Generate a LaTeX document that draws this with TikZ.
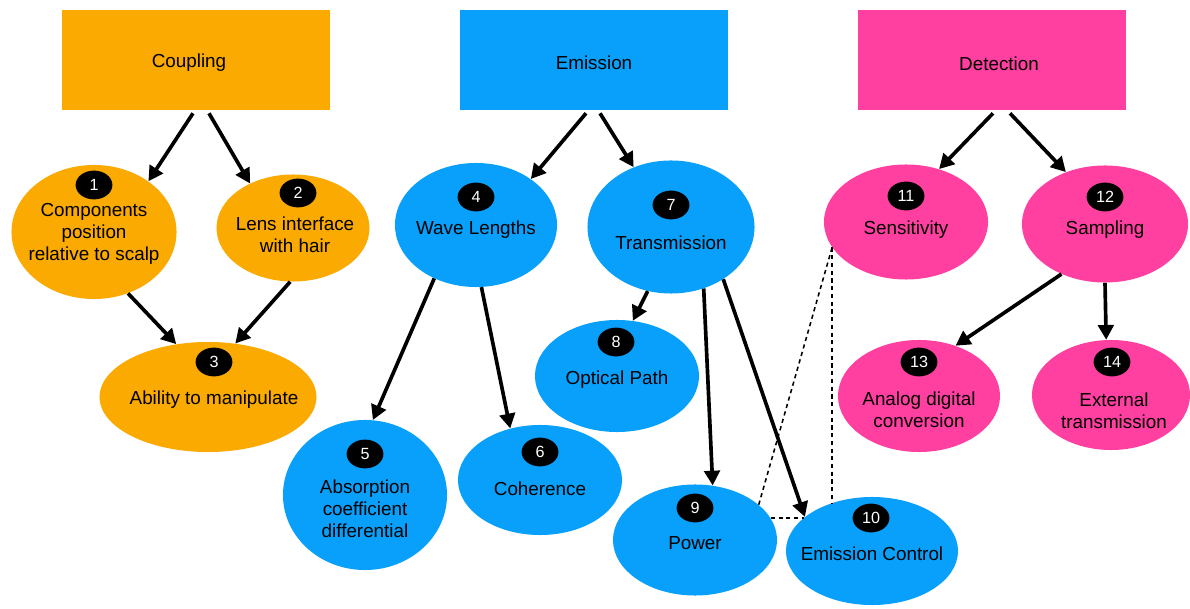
\documentclass[tikz,border=0pt]{standalone}
\usepackage{fontspec}
\setmainfont{Liberation Sans}
\usepackage{tikz}
\usetikzlibrary{arrows.meta,calc,positioning,shapes.geometric}
\definecolor{cplorange}{RGB}{250,170,0}
\definecolor{emiblue}{RGB}{8,160,250}
\definecolor{detpink}{RGB}{255,64,160}

\begin{document}
\begin{tikzpicture}[
      x=0.025cm, y=-0.025cm,
      head/.style={rectangle, minimum width=6.7cm, minimum height=2.5cm, inner sep=0pt},
      blob/.style={ellipse, inner sep=0pt},
      txt/.style={align=center, inner sep=0pt, yshift=-1.8pt, font=\fontsize{13.4}{15.6}\selectfont},
      badge/.style={ellipse, fill=black, text=white, minimum width=0.92cm, minimum height=0.72cm, inner sep=0pt, font=\fontsize{11.5}{11.5}\selectfont},
      flow/.style={-{Triangle[length=10.5pt,width=11pt]}, line width=2.6pt},
      link/.style={line width=1.1pt, dash pattern=on 3pt off 2.5pt}
    ]
      \useasboundingbox (0,0) rectangle (1190,609);

      % group headers
      \node[head, fill=cplorange] (coup) at (196,60) {};
      \node[txt] (tcoup) at (189,60) {Coupling};
      \node[head, fill=emiblue] (emis) at (594,60) {};
      \node[txt] (temis) at (594,60) {Emission};
      \node[head, fill=detpink] (detc) at (992,60) {};
      \node[txt] (tdetc) at (999,61) {Detection};

      % coupling
      \node[blob, fill=cplorange, minimum width=4.125cm, minimum height=3.35cm] (n1) at (94,232) {};
      \node[txt] (t1) at (94,231) {Components\\position\\relative to scalp};
      \node[badge] (b1) at (94,185) {1};

      \node[blob, fill=cplorange, minimum width=3.825cm, minimum height=2.675cm] (n2) at (293,228) {};
      \node[txt] (t2) at (295,232) {Lens interface\\with hair};
      \node[badge] (b2) at (298,193) {2};

      \node[blob, fill=cplorange, minimum width=5.425cm, minimum height=2.75cm] (n3) at (208,397) {};
      \node[txt] (t3) at (214,397) {Ability to manipulate};
      \node[badge] (b3) at (214,362) {3};

      % emission
      \node[blob, fill=emiblue, minimum width=4.05cm, minimum height=3.1cm] (n4) at (476,225) {};
      \node[txt] (t4) at (476,227) {Wave Lengths};
      \node[badge] (b4) at (476,197) {4};

      \node[blob, fill=emiblue, minimum width=4.1cm, minimum height=3.75cm] (n5) at (365,495) {};
      \node[txt] (t5) at (365,506) {Absorption\\coefficient\\differential};
      \node[badge] (b5) at (365,454) {5};

      \node[blob, fill=emiblue, minimum width=4.1cm, minimum height=2.75cm] (n6) at (540,480) {};
      \node[txt] (t6) at (540,486) {Coherence};
      \node[badge] (b6) at (540,452) {6};

      \node[blob, fill=emiblue, minimum width=4.175cm, minimum height=3.325cm] (n7) at (671,227) {};
      \node[txt] (t7) at (671,240) {Transmission};
      \node[badge] (b7) at (671,205) {7};

      \node[blob, fill=emiblue, minimum width=4.1cm, minimum height=2.8cm] (n8) at (617,376) {};
      \node[txt] (t8) at (617,377) {Optical Path};
      \node[badge] (b8) at (616,342) {8};

      \node[blob, fill=emiblue, minimum width=4.1cm, minimum height=2.775cm] (n9) at (695,540) {};
      \node[txt] (t9) at (695,541) {Power};
      \node[badge] (b9) at (695,508) {9};

      \node[blob, fill=emiblue, minimum width=4.3cm, minimum height=2.7cm] (n10) at (872,551) {};
      \node[txt] (t10) at (872,551) {Emission Control};
      \node[badge] (b10) at (871,518) {10};

      % detection
      \node[blob, fill=detpink, minimum width=4.1cm, minimum height=2.875cm] (n11) at (906,222) {};
      \node[txt] (t11) at (906,227) {Sensitivity};
      \node[badge] (b11) at (906,196) {11};

      \node[blob, fill=detpink, minimum width=4.15cm, minimum height=2.925cm] (n12) at (1105,224) {};
      \node[txt] (t12) at (1105,227) {Sampling};
      \node[badge] (b12) at (1105,197) {12};

      \node[blob, fill=detpink, minimum width=4.05cm, minimum height=2.8cm] (n13) at (919,396) {};
      \node[txt] (t13) at (919,407) {Analog digital\\conversion};
      \node[badge] (b13) at (919,362) {13};

      \node[blob, fill=detpink, minimum width=3.95cm, minimum height=2.75cm] (n14) at (1111,395) {};
      \node[txt] (t14) at (1114,408) {External\\transmission};
      \node[badge] (b14) at (1112,362) {14};

      % arrows
      \draw[flow] ($(coup.south)+(-3,3)$) -- (n1.43);
      \draw[flow] ($(coup.south)+(13,3)$) -- (n2.134);
      \draw[flow] (n1.299) -- (n3.121);
      \draw[flow] (n2.267) -- (n3.63);

      \draw[flow] ($(emis.south)+(-8,3)$) -- (n4.40);
      \draw[flow] ($(emis.south)+(6,3)$) -- (n7.122);
      \draw[flow] (n4.232) -- (n5.84);
      \draw[flow] (n4.275) -- (n6.120);
      \draw[flow] (n7.250) -- (n8.74);
      \draw[flow] (n7.298) -- (n9.72);
      \draw[flow] (n7.315) -- (n10.153);

      \draw[flow] ($(detc.south)+(1,3)$) -- (n11.58);
      \draw[flow] ($(detc.south)+(18,3)$) -- (n12.127);
      \draw[flow] (n12.229) -- (n13.54);
      \draw[flow] (n12.270) -- (n14.95);

      % dashed links
      \draw[link] (n9.29) -- (n11.199);
      \draw[link] (n11.199) -- (n11.199 |- n10.130);
      \draw[link] (n9.16) -- (n9.16 -| n10.154);
    \end{tikzpicture}
\end{document}
